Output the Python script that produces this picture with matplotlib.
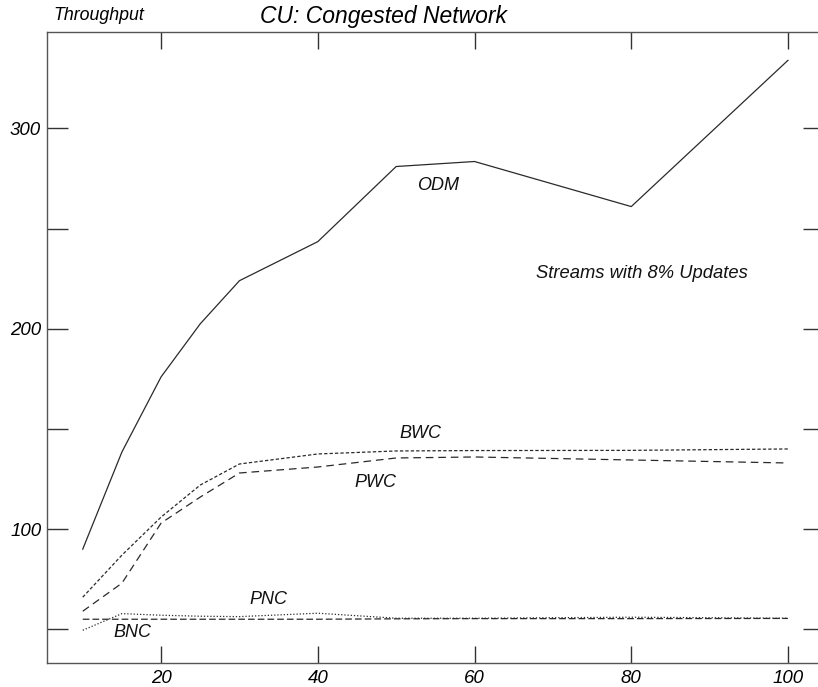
import matplotlib
matplotlib.use("Agg")
import matplotlib.pyplot as plt

plt.rcParams['font.family'] = ['Liberation Sans', 'DejaVu Sans']
plt.rcParams['font.style'] = 'italic'
plt.rcParams['lines.scale_dashes'] = False

# number of streams
streams = [10, 15, 20, 25, 30, 40, 50, 60, 80, 100]

odm = [90, 138.5, 176, 202.5, 224, 243.5, 281, 283.5, 261, 334]
bwc = [66, 87, 106, 122, 132.5, 137.5, 139, 139.2, 139.3, 140]
pwc = [59, 73, 103, 116, 128, 131, 135.5, 136, 134.5, 133]
pnc = [49.5, 57.8, 57, 56.5, 56.3, 58, 55.5, 55.5, 56, 55.5]
bnc = [55, 55, 55, 55, 55, 55, 55.2, 55.3, 55.3, 55.4]

curve_labels = ["ODM", "BWC", "PWC", "PNC", "BNC"]
label_x = [52.6, 50.4, 44.7, 31.3, 13.9]
label_y = [271.5, 147.5, 123.3, 65, 48.3]

y_ticks = [50, 100, 150, 200, 250, 300]
y_ticklabels = ["", "100", "", "200", "", "300"]
x_ticks = [20, 40, 60, 80, 100]

W, H = 818, 687
fig = plt.figure(figsize=(W / 100, H / 100), dpi=100)
ax = fig.add_axes([46.7 / W, 24 / H, (824 - 46.7) / W, (663 - 31.7) / H])

ink = '#2a2a2a'
ax.plot(streams, odm, color=ink, lw=0.9, linestyle='-')
ax.plot(streams, bwc, color=ink, lw=0.9, linestyle=(0, (2.4, 1.5)))
ax.plot(streams, pwc, color=ink, lw=0.9, linestyle=(0, (5.5, 3.5)))
ax.plot(streams, pnc, color=ink, lw=0.9, linestyle=(0, (0.9, 1.4)))
ax.plot(streams, bnc, color=ink, lw=0.9, linestyle=(0, (4.8, 2.2)))

for name, lx, ly in zip(curve_labels, label_x, label_y):
    ax.text(lx, ly, name, fontsize=13, ha='left', va='center', color='#111')

ax.text(67.9, 227.5, "Streams with 8% Updates", fontsize=13.2, ha='left', va='center', color='#111')

ax.set_xlim(5.4, 104.6)
ax.set_ylim(33.15, 348.3)

ax.set_xticks(x_ticks)
ax.set_xticklabels([str(v) for v in x_ticks])
ax.set_yticks(y_ticks)
ax.set_yticklabels(y_ticklabels)

ax.tick_params(axis='y', which='both', direction='in', length=15, width=1,
               left=True, right=True, labelsize=13.5, pad=4, color='#333')
ax.tick_params(axis='x', which='both', direction='in', length=12, width=1,
               top=True, bottom=True, labelsize=13.5, pad=5, color='#333')

for sp in ax.spines.values():
    sp.set_color('#555')
    sp.set_linewidth(1)

fig.text(53 / W, 1 - 16 / H, "Throughput", fontsize=12.8, ha='left', va='center')
fig.text(260 / W, 1 - 16 / H, "CU: Congested Network", fontsize=16.5, ha='left', va='center')

fig.savefig("out.png", dpi=100)
